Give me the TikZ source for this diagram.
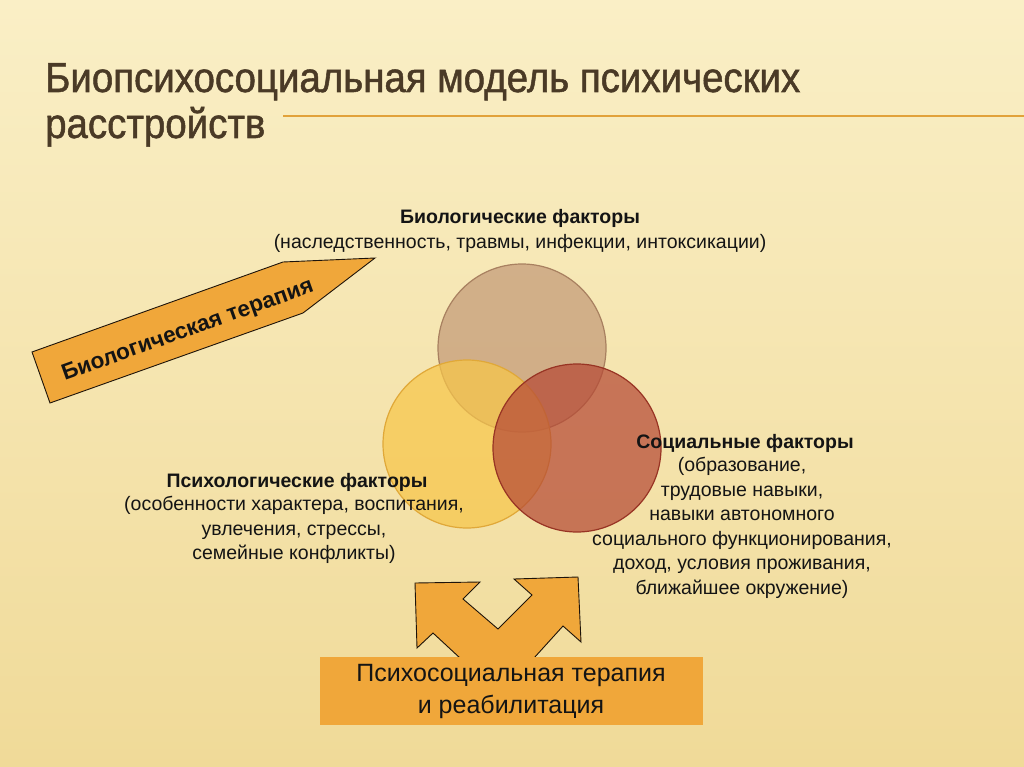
\documentclass[tikz,border=0pt]{standalone}
\usepackage{fontspec}
\setmainfont{Liberation Sans}
\newfontfamily\titlefont[FakeStretch=0.915,FakeBold=1.2]{Liberation Sans}
\usetikzlibrary{shadings}
\definecolor{bgtop}{HTML}{FAEFC6}
\definecolor{bgmid}{HTML}{F6E6B2}
\definecolor{bgbot}{HTML}{F0DA98}
\definecolor{titlecol}{HTML}{4A3A26}
\definecolor{rulecol}{HTML}{E2A23A}
\definecolor{orangefill}{HTML}{F0A73A}
\definecolor{bioC}{HTML}{C49A78}
\definecolor{bioE}{HTML}{A88060}
\definecolor{psyC}{HTML}{F7C64A}
\definecolor{psyE}{HTML}{E0A838}
\definecolor{socC}{HTML}{B64A36}
\definecolor{socE}{HTML}{983424}
\definecolor{txt}{HTML}{141414}
\tikzset{
  bodytext/.style={font=\fontsize{19.5}{24.5}\selectfont, text=txt, align=center, inner sep=0pt},
  headtext/.style={font=\bfseries\fontsize{19.5}{24.5}\selectfont, text=txt, inner sep=0pt},
  circ/.style={circle, minimum size=168pt, inner sep=0pt, line width=1.2pt, fill opacity=0.72},
  shapeline/.style={draw=black!85!brown, line width=0.9pt, fill=orangefill, line join=miter}
}
\begin{document}
\begin{tikzpicture}[x=1pt,y=-1pt]
\useasboundingbox (0,0) rectangle (1024,767);
\shade[top color=bgtop, middle color=bgmid, bottom color=bgbot] (0,0) rectangle (1024,767);
% title
\node[anchor=base west, inner sep=0pt, font=\titlefont\fontsize{42}{48}\selectfont, text=titlecol] (t1) at (45,92) {Биопсихосоциальная модель психических};
\node[anchor=base west, inner sep=0pt, font=\titlefont\fontsize{42}{48}\selectfont, text=titlecol] (t2) at (45,138) {расстройств};
\coordinate (r1) at (283,116);
\coordinate (r2) at (1024,116);
\draw[rulecol, line width=2.5pt] (r1) -- (r2);
% circles
\node[circ, fill=bioC, draw=bioE] (bio) at (522,348) {};
\node[circ, fill=psyC, draw=psyE] (psy) at (467,444) {};
\node[circ, fill=socC, draw=socE] (soc) at (577,448) {};
% texts
\node[headtext, anchor=base] (bioh) at (520,223) {Биологические факторы};
\node[bodytext, anchor=base] (biot) at (520,248) {(наследственность, травмы, инфекции, интоксикации)};
\node[headtext, anchor=base] (soch) at (745,448) {Социальные факторы};
\node[bodytext, anchor=north] (soct) at (742,457) {(образование,\\трудовые навыки,\\навыки автономного\\социального функционирования,\\доход, условия проживания,\\ближайшее окружение)};
\node[headtext, anchor=base] (psyh) at (297,487) {Психологические факторы};
\node[bodytext, anchor=north] (psyt) at (294,496) {(особенности характера, воспитания,\\увлечения, стрессы,\\семейные конфликты)};
% biological therapy arrow
\draw[shapeline] (32,352) -- (283,262) -- (375,258) -- (303,313) -- (50,403) -- cycle;
\node[font=\bfseries\fontsize{22.5}{26}\selectfont, text=txt, rotate=19.7, inner sep=0pt] (bt) at (188,331) {Биологическая терапия};
% bottom double arrow
\draw[shapeline] (415,583) -- (480,582) -- (463,599) -- (498,629) -- (532,595) -- (514,579) -- (578,577) -- (581,642) -- (563,626) -- (534,658) -- (460,658) -- (433,633) -- (417,648) -- cycle;
\fill[orangefill] (320,657) rectangle (703,725);
\node[font=\fontsize{25}{32}\selectfont, text=txt, align=center, inner sep=0pt] (pst) at (511,691) {Психосоциальная терапия\\и реабилитация};
\end{tikzpicture}
\end{document}
